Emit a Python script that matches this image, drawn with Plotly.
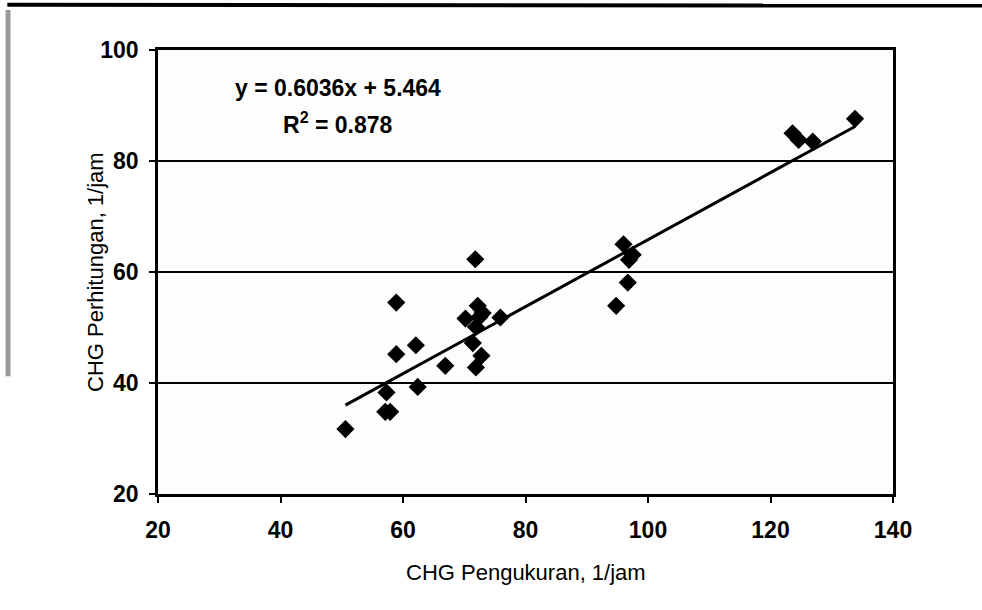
import plotly.graph_objects as go

# Data
chg_pengukuran = [50.6, 57.3, 57.1, 57.9, 58.9, 58.9, 62.1, 62.4, 66.9, 71.8,
                  70.2, 72.2, 73.0, 72.5, 71.9, 75.9, 71.4, 72.8, 71.9,
                  96.0, 97.5, 96.9, 96.7, 94.8, 123.6, 124.6, 126.9, 133.8]
chg_perhitungan = [31.7, 38.3, 34.8, 34.8, 54.5, 45.2, 46.8, 39.3, 43.1, 62.3,
                   51.6, 53.9, 52.6, 51.9, 50.1, 51.8, 47.2, 44.9, 42.8,
                   65.0, 63.1, 62.2, 58.1, 53.9, 85.0, 83.8, 83.5, 87.6]

slope = 0.6036
intercept = 5.464
r_squared = 0.878

x_ticks = [20, 40, 60, 80, 100, 120, 140]
y_ticks = [20, 40, 60, 80, 100]

x_title = "CHG Pengukuran, 1/jam"
y_title = "CHG Perhitungan, 1/jam"

x_min = min(chg_pengukuran)
x_max = max(chg_pengukuran)
trend_x = [x_min, x_max]
trend_y = [slope * v + intercept for v in trend_x]

FONT = "Liberation Sans, Arial, sans-serif"

fig = go.Figure()
fig.add_trace(go.Scatter(
    x=chg_pengukuran, y=chg_perhitungan, mode="markers",
    marker=dict(symbol="diamond", size=14, color="black"),
    showlegend=False, hoverinfo="x+y"))
fig.add_trace(go.Scatter(
    x=trend_x, y=trend_y, mode="lines",
    line=dict(color="black", width=3),
    showlegend=False, hoverinfo="skip"))

tick_font = dict(family=FONT, size=23, color="black")
title_font = dict(family=FONT, size=22, color="black")

fig.update_layout(
    width=982, height=610,
    margin=dict(l=158, r=89, t=50, b=116),
    paper_bgcolor="white", plot_bgcolor="#fdfdfd",
    font=dict(family=FONT),
    xaxis=dict(
        range=[20, 140], tickvals=x_ticks, ticktext=[f"<b>{t}</b>" for t in x_ticks],
        showgrid=False, zeroline=False, showline=True, linecolor="black", linewidth=2.5,
        mirror=True, ticks="outside", ticklen=6, tickwidth=2, tickcolor="black",
        tickfont=tick_font, ticklabelstandoff=8),
    yaxis=dict(
        range=[20, 100], tickvals=y_ticks, ticktext=[f"<b>{t}</b>" for t in y_ticks],
        showgrid=True, gridcolor="black", gridwidth=2,
        zeroline=False, showline=True, linecolor="black", linewidth=2.5,
        mirror=True, ticks="outside", ticklen=6, tickwidth=2, tickcolor="black",
        tickfont=tick_font, ticklabelstandoff=6),
    annotations=[
        dict(x=0.245, y=0.914, xref="paper", yref="paper", xanchor="center", yanchor="middle",
             text=f"<b>y = {slope}x + {intercept}</b>", showarrow=False,
             font=dict(family=FONT, size=23, color="black")),
        dict(x=0.245, y=0.836, xref="paper", yref="paper", xanchor="center", yanchor="middle",
             text=f"<b>R<sup>2</sup> = {r_squared}</b>", showarrow=False,
             font=dict(family=FONT, size=23, color="black")),
        dict(x=0.5, y=-0.176, xref="paper", yref="paper", xanchor="center", yanchor="middle",
             text=x_title, showarrow=False, font=title_font),
        dict(x=-0.0857, y=0.5, xref="paper", yref="paper", xanchor="center", yanchor="middle",
             text=y_title, showarrow=False, textangle=-90, font=title_font),
    ],
    shapes=[
        dict(type="line", xref="paper", yref="paper", x0=-0.205, x1=1.13, y0=1.102, y1=1.1,
             line=dict(color="black", width=4)),
        dict(type="line", xref="paper", yref="paper", x0=-0.204, x1=-0.204, y0=1.09, y1=0.265,
             line=dict(color="#9a9a9a", width=5)),
    ],
)

fig.write_html("out.html", config={"displayModeBar": False},
               post_script="document.body.style.margin='0';")
